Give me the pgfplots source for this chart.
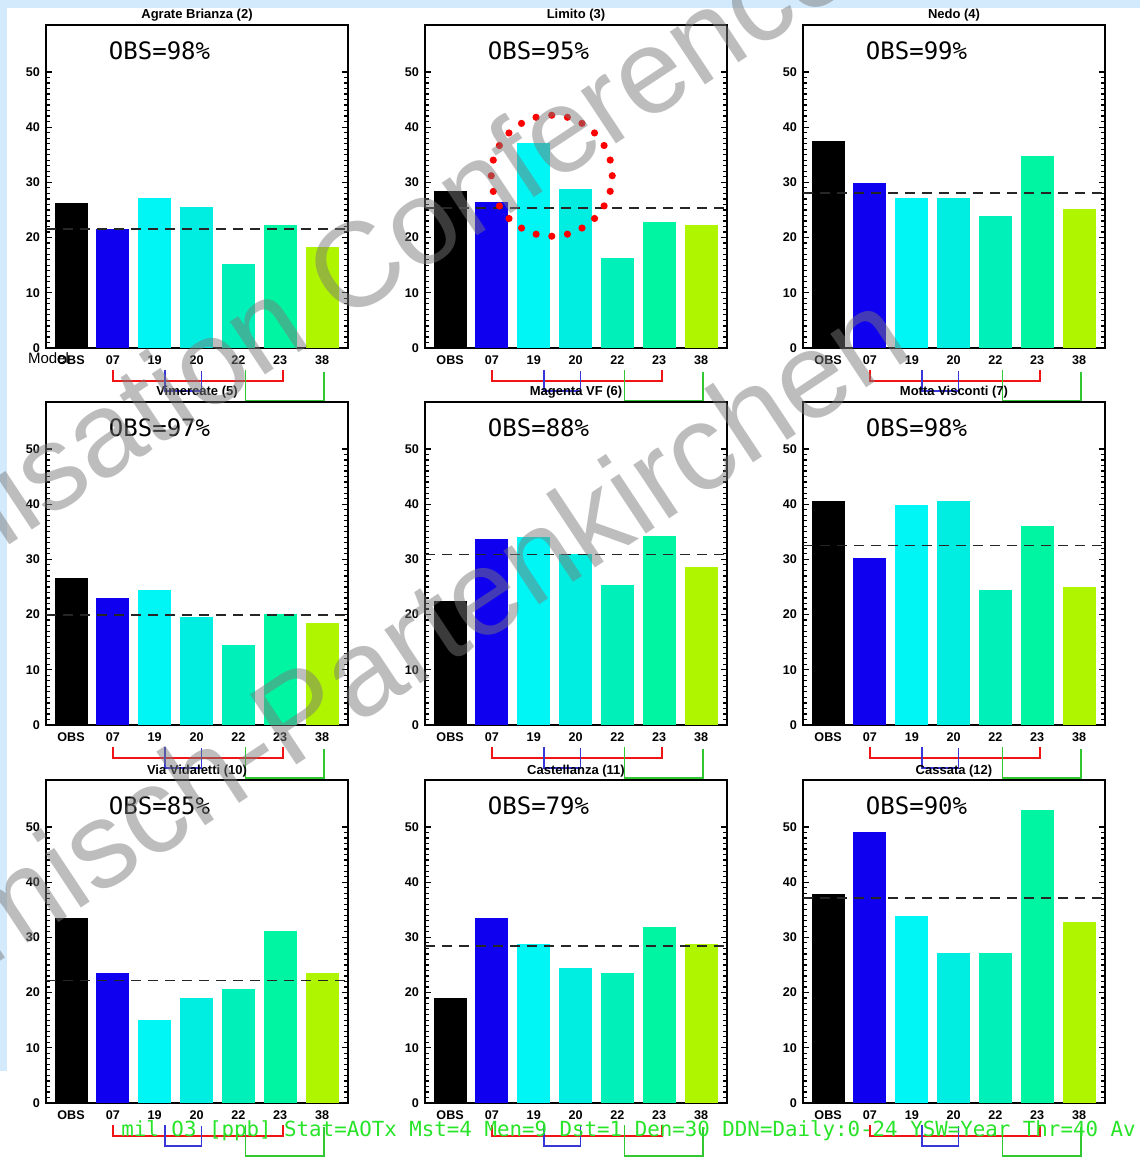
\documentclass[border=0pt]{standalone}
\usepackage{fontspec}
\setmainfont{Liberation Sans}
\newfontfamily\monofont{DejaVu Sans Mono}
\usepackage{pgfplots}
\pgfplotsset{compat=1.18}

\definecolor{cOBS}{RGB}{0,0,0}
\definecolor{c07}{RGB}{16,0,240}
\definecolor{c19}{RGB}{0,245,245}
\definecolor{c20}{RGB}{0,238,225}
\definecolor{c22}{RGB}{0,240,185}
\definecolor{c23}{RGB}{0,245,162}
\definecolor{c38}{RGB}{176,245,0}
\definecolor{bRed}{RGB}{240,20,20}
\definecolor{bBlue}{RGB}{55,55,215}
\definecolor{bGreen}{RGB}{50,200,50}
\definecolor{txtGreen}{RGB}{40,228,40}
\definecolor{bgBlue}{RGB}{210,234,252}
\definecolor{wm}{RGB}{122,122,122}

\pgfplotsset{
  panel/.style={
    scale only axis, width=151pt, height=161.5pt, anchor=south west,
    xmin=-0.6, xmax=6.62, ymin=0, ymax=58.5,
    xtick={0,1,2,3,4,5,6}, xticklabels={OBS,07,19,20,22,23,38},
    xtick pos=lower, ytick pos=both,
    ytick={0,10,20,30,40,50}, minor y tick num=9,
    axis line style={line width=1pt},
    tick style={black, line width=0.6pt},
    major tick length=3pt, minor tick length=1.8pt,
    tick label style={font=\fontsize{6.3}{6.3}\selectfont\bfseries},
    xticklabel style={yshift=-0.5pt},
    yticklabel style={xshift=0.5pt},
    /pgf/number format/assume math mode=true,
    clip=false,
  }
}

\newcommand\bars[7]{%
  \addplot[ybar, bar width=0.79, bar shift=0pt, fill=cOBS, draw=none] coordinates {(0,#1)};
  \addplot[ybar, bar width=0.79, bar shift=0pt, fill=c07, draw=none] coordinates {(1,#2)};
  \addplot[ybar, bar width=0.79, bar shift=0pt, fill=c19, draw=none] coordinates {(2,#3)};
  \addplot[ybar, bar width=0.79, bar shift=0pt, fill=c20, draw=none] coordinates {(3,#4)};
  \addplot[ybar, bar width=0.79, bar shift=0pt, fill=c22, draw=none] coordinates {(4,#5)};
  \addplot[ybar, bar width=0.79, bar shift=0pt, fill=c23, draw=none] coordinates {(5,#6)};
  \addplot[ybar, bar width=0.79, bar shift=0pt, fill=c38, draw=none] coordinates {(6,#7)};
}
\newcommand\meanline[1]{%
  \addplot[black!85, line width=0.85pt, dash pattern=on 5pt off 3.5pt] coordinates {(-0.6,#1) (6.62,#1)};
}
\newcommand\decor[2]{%
  \node[anchor=base, inner sep=0pt, font=\fontsize{6.5}{6.5}\selectfont\bfseries] at ([yshift=3pt]rel axis cs:0.5,1) {#2};
  \node[font=\monofont\fontsize{12}{12}\selectfont] at ([yshift=-13pt]rel axis cs:0.376,1) {OBS=#1\%};
  \draw[bRed, line width=0.75pt] ([yshift=-11pt]axis cs:1,0) -- ([yshift=-16.5pt]axis cs:1,0) -- ([yshift=-16.5pt]axis cs:5.07,0) -- ([yshift=-11pt]axis cs:5.07,0);
  \draw[bBlue, line width=0.75pt] ([yshift=-11pt]axis cs:2.24,0) -- ([yshift=-21.5pt]axis cs:2.24,0) -- ([yshift=-21.5pt]axis cs:3.12,0) -- ([yshift=-11.5pt]axis cs:3.12,0);
  \draw[bGreen, line width=0.75pt] ([yshift=-11pt]axis cs:4.17,0) -- ([yshift=-26.5pt]axis cs:4.17,0) -- ([yshift=-26.5pt]axis cs:6.05,0) -- ([yshift=-12pt]axis cs:6.05,0);
}

\begin{document}
\begin{tikzpicture}[x=1pt,y=1pt]
\useasboundingbox (0,0) rectangle (570,580.5);
\fill[bgBlue] (0,0) rectangle (570,580.5);
\fill[white] (3.5,0) rectangle (570,576.5);
\fill[white] (0,0) rectangle (3.5,45);

% Row 1
\begin{axis}[panel, at={(23pt,406.5pt)}]
  \bars{26.2}{21.6}{27.2}{25.6}{15.2}{22.2}{18.3}
  \meanline{21.5}
  \decor{98}{Agrate Brianza (2)}
  \node[anchor=west, font=\fontsize{7.5}{7.5}\selectfont] at ([xshift=-12.5pt,yshift=-5pt]rel axis cs:0,0) {Model};
\end{axis}
\begin{axis}[panel, at={(212.5pt,406.5pt)}]
  \bars{28.5}{26.5}{37.2}{28.8}{16.3}{22.9}{22.2}
  \meanline{25.4}
  \decor{95}{Limito (3)}
  \draw[red, line width=3.6pt, line cap=round, dash pattern=on 0pt off 7.92pt] (axis cs:2.43,31.2) circle[radius=30.25pt];
\end{axis}
\begin{axis}[panel, at={(401.5pt,406.5pt)}]
  \bars{37.5}{29.9}{27.2}{27.2}{23.9}{34.8}{25.2}
  \meanline{28.1}
  \decor{99}{Nedo (4)}
\end{axis}

% Row 2
\begin{axis}[panel, at={(23pt,218pt)}]
  \bars{26.6}{23.0}{24.4}{19.5}{14.5}{20.1}{18.4}
  \meanline{19.9}
  \decor{97}{Vimercate (5)}
\end{axis}
\begin{axis}[panel, at={(212.5pt,218pt)}]
  \bars{22.4}{33.6}{34.0}{31.0}{25.4}{34.3}{28.7}
  \meanline{30.9}
  \decor{88}{Magenta VF (6)}
\end{axis}
\begin{axis}[panel, at={(401.5pt,218pt)}]
  \bars{40.5}{30.3}{39.9}{40.5}{24.4}{36.0}{25.0}
  \meanline{32.5}
  \decor{98}{Motta Visconti (7)}
\end{axis}

% Row 3
\begin{axis}[panel, at={(23pt,29pt)}]
  \bars{33.5}{23.6}{15.0}{19.0}{20.6}{31.2}{23.6}
  \meanline{22.2}
  \decor{85}{Via Vidaletti (10)}
\end{axis}
\begin{axis}[panel, at={(212.5pt,29pt)}]
  \bars{19.1}{33.5}{28.8}{24.4}{23.5}{31.8}{28.8}
  \meanline{28.4}
  \decor{79}{Castellanza (11)}
\end{axis}
\begin{axis}[panel, at={(401.5pt,29pt)}]
  \bars{37.8}{49.1}{33.8}{27.2}{27.2}{53.0}{32.7}
  \meanline{37.1}
  \decor{90}{Cassata (12)}
\end{axis}

\begin{scope}
\clip (0,0) rectangle (570,580.5);
\node[anchor=base west, inner sep=0pt, font=\monofont\fontsize{10.4}{10.4}\selectfont, text=txtGreen] at (60.5,12.5) {mil O3 [ppb] Stat=AOTx Mst=4 Men=9 Dst=1 Den=30 DDN=Daily:0-24 YSW=Year Thr=40 Av};
\node[anchor=base east, inner sep=0pt, rotate=33.5, text=wm, opacity=0.49, font=\fontsize{60}{60}\selectfont] at (430,589.5) {Harmonisation Conference};
\node[anchor=base east, inner sep=0pt, rotate=33.5, text=wm, opacity=0.49, font=\fontsize{61}{61}\selectfont] at (458.5,403) {Garmisch-Partenkirchen};
\end{scope}
\end{tikzpicture}
\end{document}
